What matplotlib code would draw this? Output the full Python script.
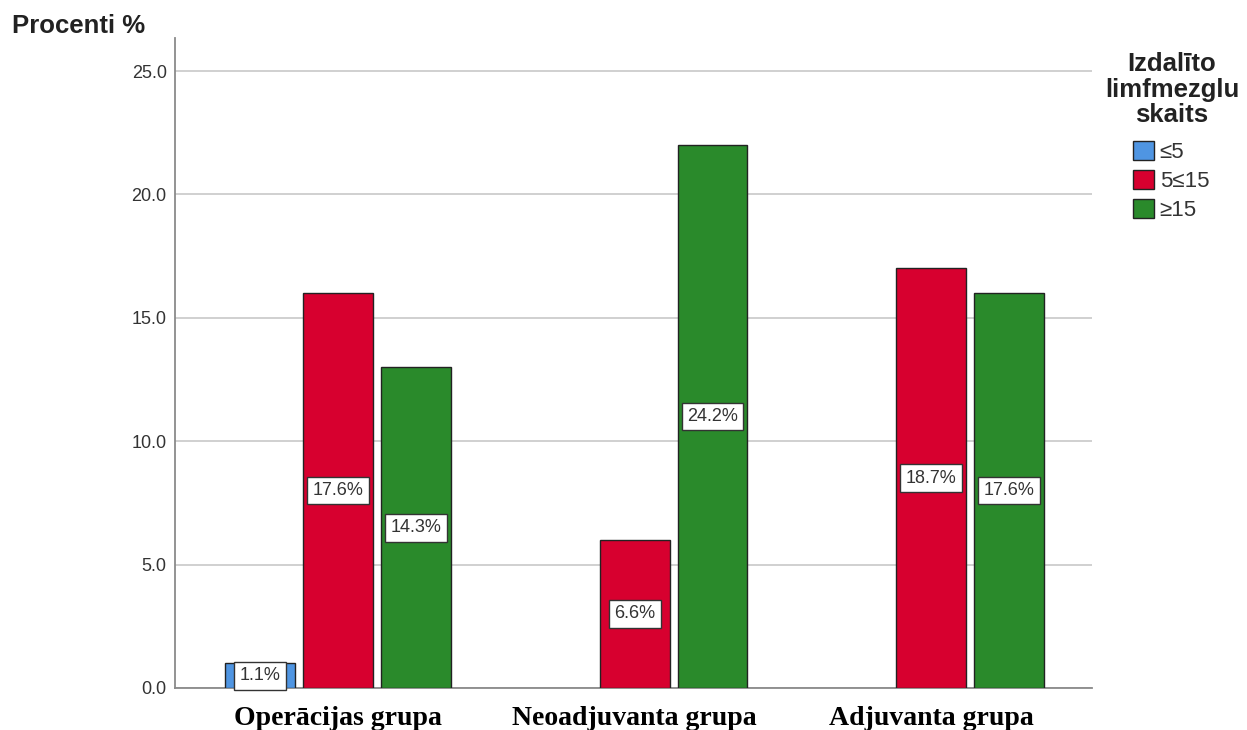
import matplotlib
matplotlib.use("Agg")
import matplotlib.pyplot as plt
import numpy as np
from matplotlib.patches import Patch

# Patient counts per group and lymph-node class (percent labels use the total)
groups = ["Operācijas grupa", "Neoadjuvanta grupa", "Adjuvanta grupa"]
classes = ["≤5", "5≤15", "≥15"]
count_le5 = [1, 0, 0]
count_5_15 = [16, 6, 17]
count_ge15 = [13, 22, 16]
total_patients = 91
yticks = [0.0, 5.0, 10.0, 15.0, 20.0, 25.0]

colors = ["#4f95e2", "#d7002f", "#2a8a2b"]
series = [count_le5, count_5_15, count_ge15]

fig = plt.figure(figsize=(12.47, 7.30), dpi=100)
ax = fig.add_axes([175 / 1247, 1 - 688 / 730, (1092 - 175) / 1247, (688 - 38) / 730])

x = np.arange(len(groups))
width = 0.236
step = 0.263
offsets = [-step, 0.0, step]

for vals, off, col in zip(series, offsets, colors):
    for xi, v in zip(x, vals):
        if v <= 0:
            continue
        ax.bar(xi + off, v, width=width, color=col, edgecolor="#222222",
               linewidth=1.0, zorder=3)
        pct = 100.0 * v / total_patients
        ax.text(xi + off, v / 2, f"{pct:.1f}%", ha="center", va="center",
                fontsize=13, color="#333333", family="Liberation Sans", zorder=5,
                bbox=dict(boxstyle="square,pad=0.3", facecolor="white",
                          edgecolor="#333333", linewidth=1.0))

ax.set_xlim(-0.55, 2.543)
ax.set_ylim(0, 26.34)
ax.set_yticks(yticks)
ax.set_yticklabels([f"{t:.1f}" for t in yticks], fontsize=13,
                   color="#333333", family="Liberation Sans")
ax.set_xticks(x)
ax.set_xticklabels(groups, fontsize=20, fontweight="bold",
                   family="Liberation Serif", color="black")
ax.tick_params(axis="both", length=0)
ax.tick_params(axis="y", pad=6)
ax.tick_params(axis="x", pad=13)

ax.grid(axis="y", color="#c8c8c8", linewidth=1.2, zorder=0)
ax.set_axisbelow(True)
for s in ["top", "right"]:
    ax.spines[s].set_visible(False)
ax.spines["left"].set_color("#8a8a8a")
ax.spines["left"].set_linewidth(1.3)
ax.spines["bottom"].set_color("#8a8a8a")
ax.spines["bottom"].set_linewidth(1.3)

fig.text(12 / 1247, 1 - 26 / 730, "Procenti %", fontsize=18.5, fontweight="bold",
         family="Liberation Sans", color="#222222", ha="left", va="center")

# Legend title drawn separately so the gap above the entries can be set freely
fig.text(1172 / 1247, 1 - 52 / 730, "Izdalīto\nlimfmezglu\nskaits",
         fontsize=18.5, fontweight="bold", family="Liberation Sans",
         color="#222222", ha="center", va="top", multialignment="center",
         linespacing=1.08)

handles = [Patch(facecolor=c, edgecolor="#222222", linewidth=1.0) for c in colors]
leg = fig.legend(handles, classes, loc="upper left",
                 bbox_to_anchor=(1133 / 1247, 1 - 141 / 730), frameon=False,
                 prop={"family": "Liberation Sans", "size": 16},
                 handlelength=0.95, handleheight=0.95, handletextpad=0.25,
                 labelspacing=0.3, borderpad=0.0, borderaxespad=0.0)
for t in leg.get_texts():
    t.set_color("#333333")

fig.savefig("out.png", dpi=100)
